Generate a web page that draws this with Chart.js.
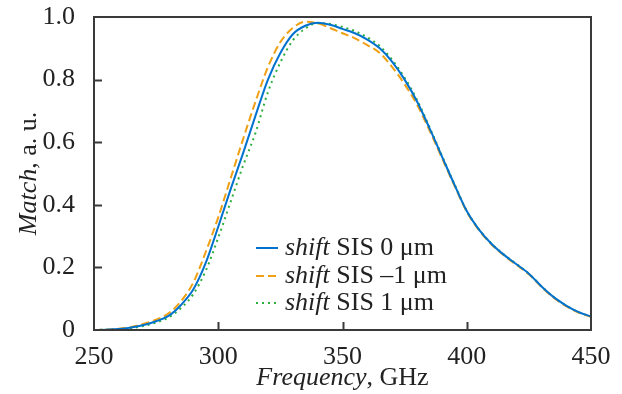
<!DOCTYPE html>
<html>
<head>
<meta charset="utf-8">
<script src="https://cdn.jsdelivr.net/npm/chart.js@4/dist/chart.umd.min.js"></script>
<style>
    body { margin: 0; background: #ffffff; }
    #wrap { width: 622px; height: 394px; }
</style>
</head>
<body>
<div id="wrap"><canvas id="chart1"></canvas></div>
<script>
// Dati nolasīti no attēla
const frequency = [250, 255, 260, 265, 270, 275, 280, 285, 290, 295, 300, 305, 310, 315, 320, 325, 330, 335, 340, 345,
    350, 355, 360, 365, 370, 375, 380, 385, 390, 395, 400, 405, 410, 415, 420, 425, 430, 435, 440, 445, 450];

const shift0 = [0, 0.001, 0.003, 0.008, 0.016, 0.028, 0.045, 0.08, 0.13, 0.215, 0.33, 0.45, 0.565, 0.685, 0.80, 0.885, 0.945, 0.972, 0.982, 0.975,
    0.962, 0.948, 0.928, 0.90, 0.857, 0.80, 0.73, 0.645, 0.555, 0.465, 0.38, 0.32, 0.275, 0.24, 0.21, 0.18, 0.14, 0.105, 0.078, 0.057, 0.043];

const shiftMinus1 = [0, 0.001, 0.004, 0.01, 0.02, 0.033, 0.053, 0.092, 0.152, 0.25, 0.36, 0.485, 0.61, 0.73, 0.84, 0.92, 0.965, 0.985, 0.98, 0.965,
    0.948, 0.932, 0.91, 0.885, 0.84, 0.785, 0.72, 0.638, 0.55, 0.462, 0.378, 0.318, 0.273, 0.238, 0.208, 0.178, 0.138, 0.103, 0.076, 0.056, 0.042];

const shiftPlus1 = [0, 0.001, 0.002, 0.006, 0.013, 0.024, 0.04, 0.07, 0.115, 0.19, 0.295, 0.41, 0.525, 0.63, 0.76, 0.855, 0.925, 0.963, 0.98, 0.978,
    0.968, 0.955, 0.935, 0.907, 0.863, 0.806, 0.735, 0.648, 0.557, 0.467, 0.381, 0.321, 0.276, 0.241, 0.211, 0.18, 0.14, 0.105, 0.078, 0.057, 0.043];

const seriesNames = ['SIS 0 \u03bcm', 'SIS \u20131 \u03bcm', 'SIS 1 \u03bcm'];
const xTicks = [250, 300, 350, 400, 450];
const yTicks = [0, 0.2, 0.4, 0.6, 0.8, 1.0];

const serif = '"Liberation Serif", "Times New Roman", serif';
const frameColor = '#3a3a3a';

function toPoints(ys) {
    return frequency.map((f, i) => ({ x: f, y: ys[i] }));
}

// Rāmis, iekšējās atzīmes, asu nosaukumi un leģenda
const decorPlugin = {
    id: 'decor',
    afterDatasetsDraw(chart) {
        const ctx = chart.ctx;
        const a = chart.chartArea;
        const xs = chart.scales.x;
        const ys = chart.scales.y;
        ctx.save();
        ctx.strokeStyle = frameColor;
        ctx.lineWidth = 2;
        ctx.strokeRect(a.left, a.top, a.right - a.left, a.bottom - a.top);
        ctx.beginPath();
        xTicks.slice(1, -1).forEach(v => {
            const px = Math.round(xs.getPixelForValue(v)) + 0.5;
            ctx.moveTo(px, a.bottom);
            ctx.lineTo(px, a.bottom - 8);
        });
        yTicks.slice(1, -1).forEach(v => {
            const py = Math.round(ys.getPixelForValue(v)) + 0.5;
            ctx.moveTo(a.left, py);
            ctx.lineTo(a.left + 8, py);
        });
        ctx.stroke();
        ctx.restore();
    },
    afterDraw(chart) {
        const ctx = chart.ctx;
        const a = chart.chartArea;
        ctx.save();
        ctx.fillStyle = '#222222';
        ctx.textBaseline = 'alphabetic';

        // x ass
        ctx.font = 'italic 26px ' + serif;
        const w1 = ctx.measureText('Frequency').width;
        ctx.font = '26px ' + serif;
        const w2 = ctx.measureText(', GHz').width;
        let x0 = (a.left + a.right) / 2 - (w1 + w2) / 2;
        ctx.font = 'italic 26px ' + serif;
        ctx.fillText('Frequency', x0, 385);
        ctx.font = '26px ' + serif;
        ctx.fillText(', GHz', x0 + w1, 385);

        // y ass
        ctx.translate(36, (a.top + a.bottom) / 2);
        ctx.rotate(-Math.PI / 2);
        ctx.font = 'italic 26px ' + serif;
        const m1 = ctx.measureText('Match').width;
        ctx.font = '26px ' + serif;
        const m2 = ctx.measureText(', a. u.').width;
        ctx.font = 'italic 26px ' + serif;
        ctx.fillText('Match', -(m1 + m2) / 2, 0);
        ctx.font = '26px ' + serif;
        ctx.fillText(', a. u.', -(m1 + m2) / 2 + m1, 0);
        ctx.restore();

        // leģenda
        ctx.save();
        const rows = [248, 276, 303];
        chart.data.datasets.forEach((ds, i) => {
            const y = rows[i];
            ctx.strokeStyle = ds.borderColor;
            ctx.lineWidth = ds.borderWidth;
            ctx.setLineDash(ds.borderDash || []);
            ctx.beginPath();
            ctx.moveTo(256, y);
            ctx.lineTo(278, y);
            ctx.stroke();
            ctx.setLineDash([]);
            ctx.fillStyle = '#222222';
            ctx.textBaseline = 'middle';
            ctx.font = 'italic 26px ' + serif;
            ctx.fillText('shift', 285, y);
            const sw = ctx.measureText('shift').width;
            ctx.font = '26px ' + serif;
            ctx.fillText(' ' + seriesNames[i], 285 + sw, y);
        });
        ctx.restore();
    }
};

const ctx1 = document.getElementById('chart1').getContext('2d');
const chart1 = new Chart(ctx1, {
    type: 'line',
    data: {
        datasets: [
            {
                label: seriesNames[0],
                data: toPoints(shift0),
                borderColor: 'rgb(0, 114, 206)',
                borderWidth: 2,
                pointRadius: 0,
                cubicInterpolationMode: 'monotone'
            },
            {
                label: seriesNames[1],
                data: toPoints(shiftMinus1),
                borderColor: 'rgb(240, 160, 20)',
                borderWidth: 2,
                borderDash: [8, 4],
                pointRadius: 0,
                cubicInterpolationMode: 'monotone'
            },
            {
                label: seriesNames[2],
                data: toPoints(shiftPlus1),
                borderColor: 'rgb(45, 175, 60)',
                borderWidth: 2,
                borderDash: [2, 4],
                pointRadius: 0,
                cubicInterpolationMode: 'monotone'
            }
        ]
    },
    options: {
        responsive: true,
        maintainAspectRatio: false,
        animation: false,
        layout: { padding: { top: 17, right: 31, left: 0, bottom: 0 } },
        plugins: {
            legend: { display: false },
            tooltip: { enabled: false }
        },
        scales: {
            x: {
                type: 'linear',
                min: 250,
                max: 450,
                afterBuildTicks: s => { s.ticks = xTicks.map(v => ({ value: v })); },
                afterFit: s => { s.height = 64; s.paddingLeft = 0; s.paddingRight = 0; },
                grid: { display: false },
                border: { display: false },
                ticks: {
                    padding: 4,
                    color: '#222222',
                    font: { family: serif, size: 26 },
                    maxRotation: 0
                }
            },
            y: {
                min: 0,
                max: 1,
                afterBuildTicks: s => { s.ticks = yTicks.map(v => ({ value: v })); },
                afterFit: s => { s.width = 94; s.paddingTop = 0; s.paddingBottom = 0; },
                grid: { display: false },
                border: { display: false },
                ticks: {
                    padding: 11,
                    color: '#222222',
                    font: { family: serif, size: 26 },
                    callback: v => v === 0 ? '0' : v.toFixed(1)
                }
            }
        }
    },
    plugins: [decorPlugin]
});
</script>
</body>
</html>
